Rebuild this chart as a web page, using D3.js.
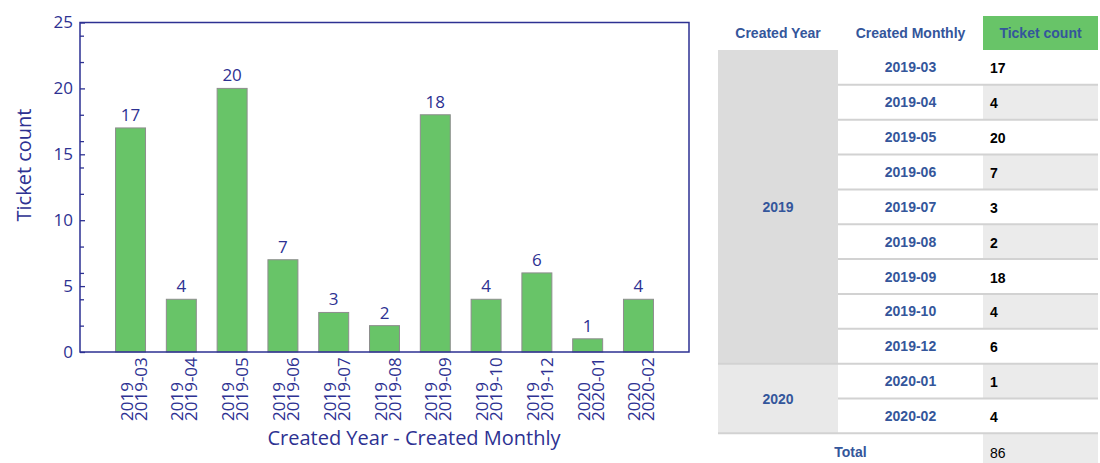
<!DOCTYPE html>
<html lang="en">

<head>
    <meta charset="UTF-8" />
    <script src="https://d3js.org/d3.v7.min.js"></script>
    <title>Ticket count</title>
    <style>
        body {
            margin: 0;
            background: #fff;
        }

        svg {
            display: block;
        }
    </style>
</head>

<body>
    <svg width="1100" height="463"></svg>
</body>
<script>
    // data
    const years = ["2019", "2019", "2019", "2019", "2019", "2019", "2019", "2019", "2019", "2020", "2020"]
    const months = ["2019-03", "2019-04", "2019-05", "2019-06", "2019-07", "2019-08", "2019-09", "2019-10", "2019-12", "2020-01", "2020-02"]
    const counts = [17, 4, 20, 7, 3, 2, 18, 4, 6, 1, 4]
    const yTicks = [0, 5, 10, 15, 20, 25]
    const headers = ["Created Year", "Created Monthly", "Ticket count"]

    const data = months.map((m, i) => ({ year: years[i], month: m, value: counts[i] }))

    const navy = "#2d3192"
    const green = "#68c468"
    const svg = d3.select("svg")

    // ---- chart ----
    const x = d3.scaleBand().domain(months).range([80, 689]).paddingInner(0.41).paddingOuter(0.7)
    const y = d3.scaleLinear().domain([0, 25]).range([352, 22.5])

    const chart = svg.append("g").attr("font-family", "'Open Sans', sans-serif").attr("fill", navy)

    chart.append("g").selectAll("rect").data(data).join("rect")
        .attr("x", d => x(d.month))
        .attr("y", d => y(d.value))
        .attr("width", x.bandwidth())
        .attr("height", d => y(0) - y(d.value))
        .attr("fill", green)
        .attr("stroke", "#8d8d8d")
        .attr("stroke-width", 1)

    chart.append("g").selectAll("text").data(data).join("text")
        .attr("x", d => x(d.month) + x.bandwidth() / 2)
        .attr("y", d => y(d.value) - 7)
        .attr("text-anchor", "middle")
        .attr("font-size", 17)
        .text(d => d.value)

    // minor ticks
    const minor = y.ticks(10).filter(t => !yTicks.includes(t))
    chart.append("g").attr("transform", "translate(80,0)")
        .call(d3.axisLeft(y).tickValues(minor).tickSize(-4).tickFormat(""))
        .call(g => g.select(".domain").remove())
        .call(g => g.selectAll("line").attr("stroke", navy).attr("stroke-width", 1.3))

    chart.append("g").attr("transform", "translate(80,0)")
        .call(d3.axisLeft(y).tickValues(yTicks).tickSize(-5).tickPadding(7))
        .call(g => g.select(".domain").remove())
        .call(g => g.selectAll("line").attr("stroke", navy).attr("stroke-width", 1.3))
        .call(g => g.selectAll("text").attr("fill", navy).attr("font-size", 17).attr("font-family", "'Open Sans', sans-serif"))

    // frame
    chart.append("rect")
        .attr("x", x.range()[0]).attr("y", y(25))
        .attr("width", x.range()[1] - x.range()[0]).attr("height", y(0) - y(25))
        .attr("fill", "none").attr("stroke", navy).attr("stroke-width", 1.5)

    // x labels (two lines, rotated)
    const xl = chart.append("g").selectAll("g").data(data).join("g")
        .attr("transform", d => `translate(${x(d.month) + x.bandwidth() / 2},421) rotate(-90)`)
    const xt = xl.append("text").attr("font-size", 17).attr("text-anchor", "start")
    xt.append("tspan").attr("x", 0).attr("y", 2).text(d => d.year)
    xt.append("tspan").attr("x", 0).attr("y", 16).text(d => d.month)

    chart.append("text")
        .attr("x", 414).attr("y", 445)
        .attr("text-anchor", "middle").attr("font-size", 20)
        .text("Created Year - Created Monthly")

    chart.append("text")
        .attr("transform", "translate(31,165) rotate(-90)")
        .attr("text-anchor", "middle").attr("font-size", 20)
        .text("Ticket count")

    // ---- table ----
    const colX = [718, 838, 983, 1098]
    const blue = "#34569b"
    const rows = d3.scaleBand().domain([...months, "Total"]).range([50, 50 + 12 * 34.85])
    const rh = rows.bandwidth()
    const tbl = svg.append("g").attr("font-family", "'Liberation Sans', Arial, sans-serif").attr("font-size", 14)

    // header
    tbl.append("rect").attr("x", colX[2]).attr("y", 16).attr("width", colX[3] - colX[2]).attr("height", 34).attr("fill", green)
    tbl.selectAll(".hd").data(headers).join("text")
        .attr("x", (d, i) => (colX[i] + colX[i + 1]) / 2)
        .attr("y", 38)
        .attr("text-anchor", "middle").attr("font-weight", "bold").attr("fill", blue)
        .text(d => d)

    // year groups
    const groups = d3.groups(data, d => d.year)
    groups.forEach(([yr, items], gi) => {
        const y0 = rows(items[0].month)
        const y1 = rows(items[items.length - 1].month) + rh
        tbl.append("rect").attr("x", colX[0]).attr("y", y0).attr("width", colX[1] - colX[0]).attr("height", y1 - y0)
            .attr("fill", gi === 0 ? "#dcdcdc" : "#e9e9e9")
        tbl.append("text").attr("x", (colX[0] + colX[1]) / 2).attr("y", (y0 + y1) / 2 + 5)
            .attr("text-anchor", "middle").attr("font-weight", "bold").attr("fill", blue).text(yr)
    })

    // month rows
    const r = tbl.append("g").selectAll("g").data(data).join("g")
    r.append("rect").attr("x", colX[1]).attr("y", d => rows(d.month)).attr("width", colX[2] - colX[1]).attr("height", rh).attr("fill", "#fff")
    r.append("rect").attr("x", colX[2]).attr("y", d => rows(d.month)).attr("width", colX[3] - colX[2]).attr("height", rh)
        .attr("fill", (d, i) => i % 2 ? "#ebebeb" : "#fff")
    r.append("text").attr("x", (colX[1] + colX[2]) / 2).attr("y", d => rows(d.month) + rh / 2 + 5)
        .attr("text-anchor", "middle").attr("font-weight", "bold").attr("fill", blue).text(d => d.month)
    r.append("text").attr("x", colX[2] + 7).attr("y", d => rows(d.month) + rh / 2 + 6)
        .attr("font-weight", "bold").attr("fill", "#000").text(d => d.value)

    // total row
    const ty = rows("Total")
    tbl.append("rect").attr("x", colX[2]).attr("y", ty).attr("width", colX[3] - colX[2]).attr("height", rh).attr("fill", "#ebebeb")
    tbl.append("text").attr("x", (colX[0] + colX[2]) / 2).attr("y", ty + rh / 2 + 6)
        .attr("text-anchor", "middle").attr("font-weight", "bold").attr("fill", blue).text("Total")
    tbl.append("text").attr("x", colX[2] + 7).attr("y", ty + rh / 2 + 7).attr("fill", "#000").text(d3.sum(counts))

    // separators
    const firstOfGroup = new Set(groups.map(g => g[1][0].month))
    tbl.append("g").selectAll("line").data([...months.slice(1), "Total"]).join("line")
        .attr("x1", d => d === "Total" || firstOfGroup.has(d) ? colX[0] : colX[1])
        .attr("x2", colX[3])
        .attr("y1", d => rows(d)).attr("y2", d => rows(d))
        .attr("stroke", "#d2d2d2").attr("stroke-width", 2)
</script>

</html>
